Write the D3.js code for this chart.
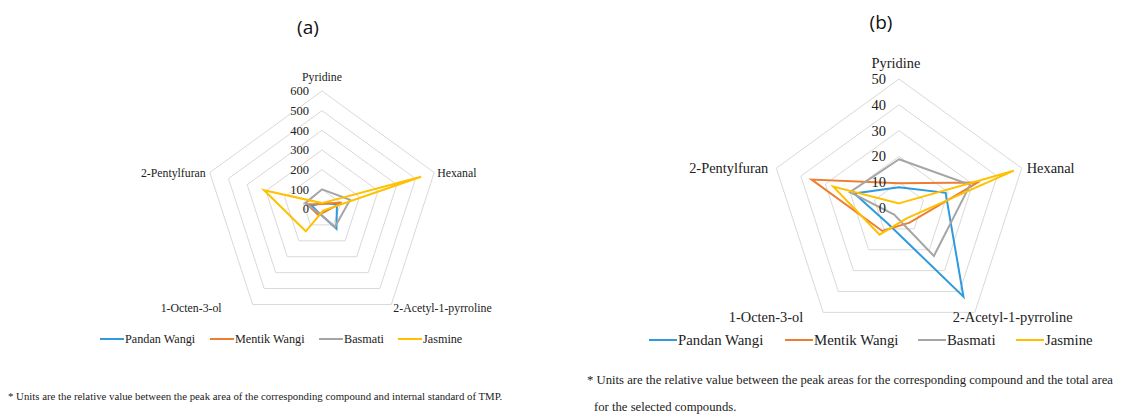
<!DOCTYPE html>
<html>
<head>
<meta charset="utf-8">
<script src="https://cdn.jsdelivr.net/npm/d3@7"></script>
<style>
  body { margin: 0; background: #fff; }
  svg { display: block; }
</style>
</head>
<body>
<svg id="chart" width="1136" height="418"></svg>
<script>
// Compounds on the radar spokes (clockwise from top)
const compounds = ['Pyridine', 'Hexanal', '2-Acetyl-1-pyrroline', '1-Octen-3-ol', '2-Pentylfuran'];
const varieties = ['Pandan Wangi', 'Mentik Wangi', 'Basmati', 'Jasmine'];

// (a) relative to internal standard TMP
const pandanA  = [30, 80, 125, 25, 55];
const mentikA  = [25, 105, 20, 35, 80];
const basmatiA = [100, 150, 112, 25, 90];
const jasmineA = [30, 530, 10, 140, 310];
const ticksA   = [0, 100, 200, 300, 400, 500, 600];

// (b) relative to the total area of selected compounds
const pandanB  = [8, 19, 42.5, 7.4, 18.2];
const mentikB  = [9.6, 32, 7, 11, 35.6];
const basmatiB = [18.9, 29, 23, 3.2, 20];
const jasmineB = [1.8, 46.8, 5, 12.8, 26.8];
const ticksB   = [0, 10, 20, 30, 40, 50];

const colors = ['#2f9ade', '#ed7d31', '#a5a5a5', '#ffc000'];

const svg = d3.select('#chart');
const serif = '"Liberation Serif", "Times New Roman", serif';

function drawRadar(opt) {
  const g = svg.append('g');
  const r = d3.scaleLinear().domain([0, d3.max(opt.ticks)]).range([0, opt.radius]);
  const angle = i => i * 2 * Math.PI / compounds.length;
  const px = (i, v) => opt.cx + r(v) * Math.sin(angle(i));
  const py = (i, v) => opt.cy - r(v) * Math.cos(angle(i));

  // grid pentagons
  const ring = d3.lineRadial()
      .angle((d, i) => angle(i))
      .radius(d => r(d))
      .curve(d3.curveLinearClosed);
  g.selectAll('.ring')
    .data(opt.ticks.filter(t => t > 0))
    .enter()
    .append('path')
    .attr('transform', `translate(${opt.cx},${opt.cy})`)
    .attr('d', t => ring(compounds.map(() => t)))
    .attr('fill', 'none')
    .attr('stroke', '#d9d9d9')
    .attr('stroke-width', 1);

  // series
  const line = d3.lineRadial()
      .angle((d, i) => angle(i))
      .radius(d => r(d))
      .curve(d3.curveLinearClosed);
  g.selectAll('.series')
    .data(opt.series)
    .enter()
    .append('path')
    .attr('transform', `translate(${opt.cx},${opt.cy})`)
    .attr('d', d => line(d))
    .attr('fill', 'none')
    .attr('stroke', (d, i) => colors[i])
    .attr('stroke-width', opt.lineWidth)
    .attr('stroke-linejoin', 'miter');

  // tick labels on the top spoke
  g.selectAll('.tick')
    .data(opt.ticks)
    .enter()
    .append('text')
    .attr('x', opt.cx - opt.tickGap)
    .attr('y', t => opt.cy - r(t))
    .attr('dy', '0.35em')
    .attr('text-anchor', 'end')
    .style('font-family', serif)
    .style('font-size', opt.tickSize + 'px')
    .style('fill', '#222')
    .text(t => t);

  // compound labels
  g.selectAll('.axisLabel')
    .data(compounds)
    .enter()
    .append('text')
    .attr('x', (d, i) => px(i, d3.max(opt.ticks)) + opt.labelOff[i][0])
    .attr('y', (d, i) => py(i, d3.max(opt.ticks)) + opt.labelOff[i][1])
    .attr('dy', '0.35em')
    .attr('text-anchor', (d, i) => opt.labelOff[i][2])
    .style('font-family', serif)
    .style('font-size', opt.labelSize + 'px')
    .style('fill', '#222')
    .text(d => d);

  // panel title
  g.append('text')
    .attr('x', opt.titleX)
    .attr('y', opt.titleY)
    .attr('dy', '0.35em')
    .attr('text-anchor', 'middle')
    .style('font-family', '"Open Sans", sans-serif')
    .style('font-size', '19px')
    .style('fill', '#111')
    .text(opt.title);

  // legend
  const leg = g.selectAll('.leg')
    .data(varieties)
    .enter()
    .append('g')
    .attr('transform', (d, i) => `translate(${opt.legendX[i]},${opt.legendY})`);
  leg.append('line')
    .attr('x1', 0).attr('x2', opt.legendLine)
    .attr('y1', 0).attr('y2', 0)
    .attr('stroke', (d, i) => colors[i])
    .attr('stroke-width', 2);
  leg.append('text')
    .attr('x', opt.legendLine + 1)
    .attr('dy', '0.35em')
    .style('font-family', serif)
    .style('font-size', opt.legendSize + 'px')
    .style('fill', '#222')
    .text(d => d);

  // footnote
  g.selectAll('.note')
    .data(opt.note)
    .enter()
    .append('text')
    .attr('x', (d, i) => opt.noteX[i])
    .attr('y', (d, i) => opt.noteY[i])
    .attr('dy', '0.35em')
    .style('font-family', serif)
    .style('font-size', opt.noteSize + 'px')
    .style('fill', '#222')
    .text(d => d);
}

drawRadar({
  title: '(a)', titleX: 308, titleY: 27,
  cx: 322, cy: 209, radius: 118,
  ticks: ticksA, tickGap: 13, tickSize: 12.5,
  series: [pandanA, mentikA, basmatiA, jasmineA],
  lineWidth: 2,
  labelSize: 11.8,
  labelOff: [[0, -14, 'middle'], [3, 0, 'start'], [2, 3, 'start'], [-31, 3, 'end'], [-4, 0, 'end']],
  legendX: [100, 210, 319, 398], legendY: 339, legendLine: 24, legendSize: 12.2,
  note: ['* Units are the relative value between the peak area of the corresponding compound and internal standard of TMP.'],
  noteX: [8], noteY: [396], noteSize: 10.8
});

drawRadar({
  title: '(b)', titleX: 881, titleY: 22,
  cx: 899, cy: 208, radius: 129,
  ticks: ticksB, tickGap: 13, tickSize: 14.5,
  series: [pandanB, mentikB, basmatiB, jasmineB],
  lineWidth: 2,
  labelSize: 14.4,
  labelOff: [[-3, -16, 'middle'], [5, 0, 'start'], [-22, 5, 'start'], [-20, 5, 'end'], [-8, 0, 'end']],
  legendX: [649, 785, 918, 1016], legendY: 340, legendLine: 28, legendSize: 14.8,
  note: ['* Units are the relative value between the peak areas for the corresponding compound and the total area',
         'for the selected compounds.'],
  noteX: [587, 594], noteY: [380, 407], noteSize: 12.7
});
</script>
</body>
</html>
